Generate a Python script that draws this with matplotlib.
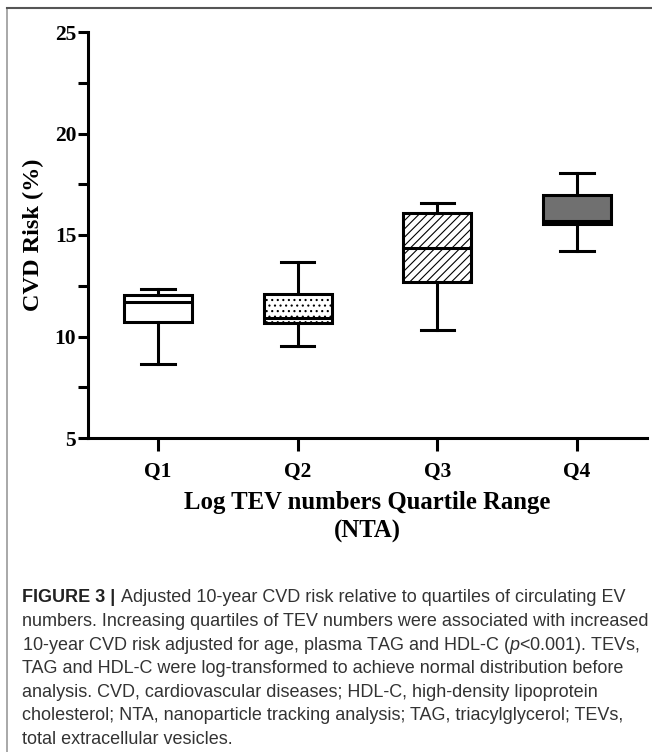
import matplotlib
matplotlib.use("Agg")
import matplotlib.pyplot as plt
from matplotlib.lines import Line2D

# box statistics (CVD risk, %)
quartiles = ["Q1", "Q2", "Q3", "Q4"]
whisker_low = [8.65, 9.54, 10.31, 14.23]
box_low = [10.71, 10.68, 12.70, 15.55]
medians = [11.70, 10.91, 14.35, 15.68]
box_high = [12.06, 12.11, 16.06, 16.99]
whisker_high = [12.34, 13.69, 16.59, 18.07]
hatches = ["", "...", "////", ""]
fills = ["white", "white", "white", "#707070"]
y_ticks = [5, 10, 15, 20, 25]

caption_head = "FIGURE 3 |"
caption_first = "Adjusted 10-year CVD risk relative to quartiles of circulating EV"
caption_rest = [
    "numbers. Increasing quartiles of TEV numbers were associated with increased",
    "10-year CVD risk adjusted for age, plasma TAG and HDL-C ($p$<0.001). TEVs,",
    "TAG and HDL-C were log-transformed to achieve normal distribution before",
    "analysis. CVD, cardiovascular diseases; HDL-C, high-density lipoprotein",
    "cholesterol; NTA, nanoparticle tracking analysis; TAG, triacylglycerol; TEVs,",
    "total extracellular vesicles.",
]

serif = ["Liberation Serif", "DejaVu Serif"]
sans = ["Liberation Sans Narrow", "Liberation Sans", "DejaVu Sans"]
plt.rcParams["hatch.linewidth"] = 0.8
plt.rcParams["hatch.color"] = "black"
plt.rcParams["mathtext.fontset"] = "custom"
plt.rcParams["mathtext.it"] = "Liberation Sans:italic"
plt.rcParams["mathtext.rm"] = "Liberation Sans"

W, H = 652, 752
fig = plt.figure(figsize=(W / 100, H / 100), dpi=100)

# outer frame (top and left edges only, like the cropped figure panel)
fig.add_artist(Line2D([7 / W, 7 / W], [0, 1 - 8 / H], color="#999999", lw=1.2))
fig.add_artist(Line2D([7 / W, 1], [1 - 8 / H, 1 - 8 / H], color="#555555", lw=1.5))

ax = fig.add_axes([88 / W, (H - 438) / H, (647 - 88) / W, (438 - 32) / H])

stats = []
for i in range(len(quartiles)):
    stats.append({
        "whislo": whisker_low[i], "q1": box_low[i], "med": medians[i],
        "q3": box_high[i], "whishi": whisker_high[i], "fliers": [],
        "label": quartiles[i],
    })

lw = 2.2
bp = ax.bxp(stats, positions=[1, 2, 3, 4], widths=0.486, capwidths=0.24,
            patch_artist=True, showfliers=False,
            boxprops=dict(linewidth=lw, edgecolor="black"),
            whiskerprops=dict(linewidth=lw, color="black"),
            capprops=dict(linewidth=lw, color="black"),
            medianprops=dict(linewidth=lw, color="black"))
for patch, h, c in zip(bp["boxes"], hatches, fills):
    patch.set_facecolor(c)
    patch.set_hatch(h)

ax.set_xlim(0.5, 4.5)
ax.set_ylim(5, 25)
ax.set_yticks(y_ticks)
ax.set_yticks([7.5, 12.5, 17.5, 22.5], minor=True)
ax.set_xticks([1, 2, 3, 4])
ax.set_xticklabels(quartiles)

for side in ["top", "right"]:
    ax.spines[side].set_visible(False)
for side in ["left", "bottom"]:
    ax.spines[side].set_linewidth(lw)

ax.tick_params(axis="y", which="both", length=7, width=lw, pad=1.5)
ax.tick_params(axis="x", length=9, width=lw, pad=8)
for lab in ax.get_xticklabels() + ax.get_yticklabels():
    lab.set_fontfamily(serif)
    lab.set_fontweight("bold")
    lab.set_fontsize(15.5)

fig.text(33 / W, 1 - 235 / H, "CVD Risk (%)", rotation=90, ha="center", va="center",
         family=serif, weight="bold", fontsize=17.5)
fig.text(367 / W, 1 - 517 / H, "Log TEV numbers Quartile Range\n(NTA)", ha="center",
         va="center", family=serif, weight="bold", fontsize=17.8, linespacing=1.3)

# caption: size it so the widest line fills the panel width
x0 = 22 / W
probe = fig.text(x0, 0.5, caption_rest[0], family=sans, fontsize=12)
fig.canvas.draw()
r = fig.canvas.get_renderer()
wpx = probe.get_window_extent(r).width
probe.remove()
fs = 12 * (626 / wpx)

y_first = 598
step = 23.6
head = fig.text(x0, 1 - y_first / H, caption_head, family=sans, weight="bold",
                fontsize=fs, color="#222222", va="center")
fig.canvas.draw()
hb = head.get_window_extent(r)
fig.text((hb.x1 + fs * 0.45) / W, 1 - y_first / H, caption_first, family=sans,
         fontsize=fs, color="#333333", va="center")
for i, line in enumerate(caption_rest):
    fig.text(x0, 1 - (y_first + step * (i + 1)) / H, line, family=sans,
             fontsize=fs, color="#333333", va="center")

fig.savefig("out.png", dpi=100)
